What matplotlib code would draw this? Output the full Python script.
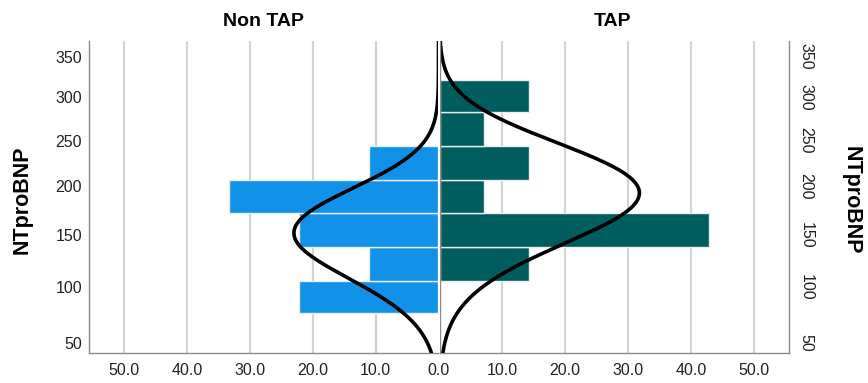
import numpy as np
import matplotlib
matplotlib.use("Agg")
import matplotlib.pyplot as plt

plt.rcParams['font.family'] = ['Liberation Sans', 'DejaVu Sans']

# NTproBNP bins (bar edges) and percent of each group per bin
bin_edges = [76, 106, 138, 172, 207, 244, 283, 321]
non_tap_pct = [22.2, 11.1, 22.2, 33.3, 11.1, 0.0, 0.0]
tap_pct = [0.0, 14.3, 42.9, 7.1, 14.3, 7.1, 14.3]

# fitted normal curves: (mean, sd, peak in %)
non_tap_curve = (152, 45, 23.0)
tap_curve = (193, 53, 31.8)

y_ticks = [50, 100, 150, 200, 250, 300, 350]
x_ticks = [0, 10, 20, 30, 40, 50]
y_range = (41.4, 370)
x_max = 55.6

blue = '#1192e8'
teal = '#005d5d'
grid_c = '#d3d3d3'
spine_c = '#8a8a8a'


def fwd(v):
    return np.log(np.asarray(v, dtype=float) + 600)


def inv(u):
    return np.exp(u) - 600


fig = plt.figure(figsize=(8.68, 3.83), dpi=100)
ax_l = fig.add_axes([89 / 868, 1 - 353 / 383, 349.5 / 868, 312 / 383])
ax_r = fig.add_axes([439.5 / 868, 1 - 353 / 383, 349.5 / 868, 312 / 383])

lows = np.array(bin_edges[:-1])
heights = np.diff(bin_edges)
vv = np.linspace(y_range[0], y_range[1], 400)

for ax, pct, col, curve in [(ax_l, non_tap_pct, blue, non_tap_curve),
                             (ax_r, tap_pct, teal, tap_curve)]:
    ax.set_yscale('function', functions=(fwd, inv))
    ax.set_ylim(*y_range)
    for t in x_ticks[1:]:
        ax.axvline(t, color=grid_c, lw=1.6, zorder=0)
    ax.barh(lows, pct, height=heights, align='edge', color=col,
            edgecolor='#e6eef0', linewidth=1.0, zorder=2)
    m, s, pk = curve
    ax.plot(pk * np.exp(-0.5 * ((vv - m) / s) ** 2), vv, color='black',
            lw=2.6, zorder=3, solid_capstyle='round')
    ax.set_xticks(x_ticks)
    ax.set_yticks(y_ticks)
    ax.yaxis.set_minor_locator(plt.NullLocator())
    ax.tick_params(length=0, labelsize=11.5, colors='#222222')
    ax.tick_params(axis='x', pad=7)
    for sp in ax.spines.values():
        sp.set_color(spine_c)
        sp.set_linewidth(1.0)
    ax.spines['top'].set_visible(False)

ax_l.set_xlim(x_max, 0)
ax_r.set_xlim(0, x_max)
ax_l.set_xticklabels(['%.1f' % t for t in x_ticks])
ax_r.set_xticklabels([''] + ['%.1f' % t for t in x_ticks[1:]])

ax_l.spines['right'].set_visible(False)
ax_r.spines['left'].set_visible(False)
ax_r.axvline(0, color=spine_c, lw=1.0, zorder=4)
ax_l.set_yticklabels([str(t) for t in y_ticks])
ax_l.tick_params(axis='y', pad=5)

ax_r.yaxis.tick_right()
ax_r.set_yticklabels([str(t) for t in y_ticks], rotation=-90, va='center', ha='left')
ax_r.tick_params(axis='y', pad=7)

fig.text(263 / 868, 1 - 21 / 383, 'Non TAP', ha='center', va='center',
         fontsize=14, fontweight='bold')
fig.text(613 / 868, 1 - 21 / 383, 'TAP', ha='center', va='center',
         fontsize=14, fontweight='bold')
fig.text(22 / 868, 1 - 200 / 383, 'NTproBNP', rotation=90, ha='center', va='center',
         fontsize=15.5, fontweight='bold')
fig.text(851 / 868, 1 - 200 / 383, 'NTproBNP', rotation=270, ha='center', va='center',
         fontsize=15.5, fontweight='bold')

fig.savefig('out.png', dpi=100, facecolor='white')
